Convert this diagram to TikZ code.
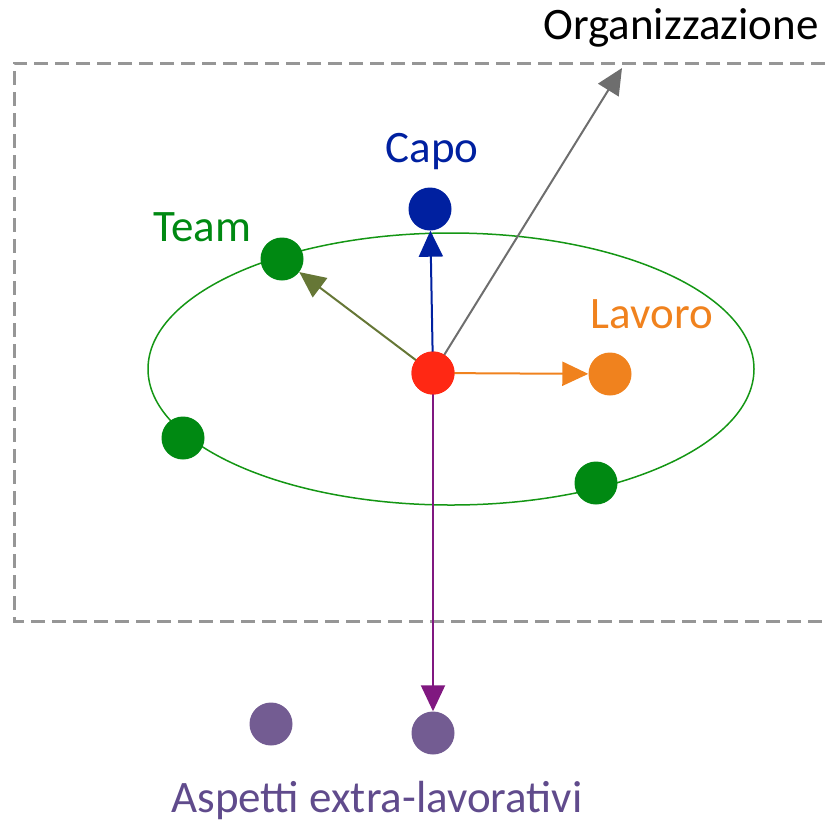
\documentclass[tikz,border=0pt]{standalone}
\usepackage{fontspec}
\setmainfont{Carlito}
\usetikzlibrary{arrows.meta}
\definecolor{cblue}{RGB}{0,32,160}
\definecolor{cgreen}{RGB}{0,137,18}
\definecolor{cellipse}{RGB}{20,150,20}
\definecolor{colive}{RGB}{102,119,54}
\definecolor{cred}{RGB}{255,40,20}
\definecolor{corange}{RGB}{240,130,30}
\definecolor{cpurple}{RGB}{128,24,128}
\definecolor{cviolet}{RGB}{115,92,146}
\definecolor{cvtext}{RGB}{96,75,140}
\definecolor{cgray}{RGB}{110,110,110}
\definecolor{cdash}{RGB}{150,150,150}
\tikzset{
  dot/.style={circle,minimum size=43pt,inner sep=0pt,fill=#1},
  lbl/.style={font=\fontsize{45}{54}\selectfont,text=#1,inner sep=0pt},
  arr/.style={draw=#1,line width=2pt,-{Triangle[length=26pt,width=24pt]}},
}
\begin{document}
\begin{tikzpicture}[x=1pt,y=-1pt]
\useasboundingbox (0,0) rectangle (825,823);
% dashed frame
\draw[cdash,line width=3pt,dash pattern=on 14pt off 7pt] (825,63) -- (14,63) -- (14,621) -- (825,621);
% ellipse
\draw[cellipse,line width=1.5pt] (451,369) ellipse [x radius=303, y radius=136];
% nodes
\node[dot=cred] (r) at (433,373) {};
\node[dot=cblue] (capo) at (430,209) {};
\node[dot=cgreen] (t1) at (282,259) {};
\node[dot=cgreen] (t2) at (183,438) {};
\node[dot=cgreen] (t3) at (596,483) {};
\node[dot=corange] (lav) at (610,374) {};
\node[dot=cviolet] (e1) at (271,724) {};
\node[dot=cviolet] (e2) at (433,733) {};
\coordinate (org) at (622,68);
% arrows
\draw[arr=cgray] (r.center) -- (org);
\draw[arr=cblue] (r.center) -- (capo);
\draw[arr=colive] (r.center) -- (t1);
\draw[arr=corange] (r.center) -- (lav);
\draw[arr=cpurple] (r.center) -- (e2);
\node[dot=cred] (r2) at (r) {};
% labels
\node[lbl=black] (lorg) at (681,28) {Organizzazione};
\node[lbl=cblue] (lcapo) at (432,152) {Capo};
\node[lbl=cgreen] (lteam) at (202,227) {Team};
\node[lbl=corange] (llav) at (652,314) {Lavoro};
\node[lbl=cvtext] (lext) at (377,800) {Aspetti extra-lavorativi};
\end{tikzpicture}
\end{document}
